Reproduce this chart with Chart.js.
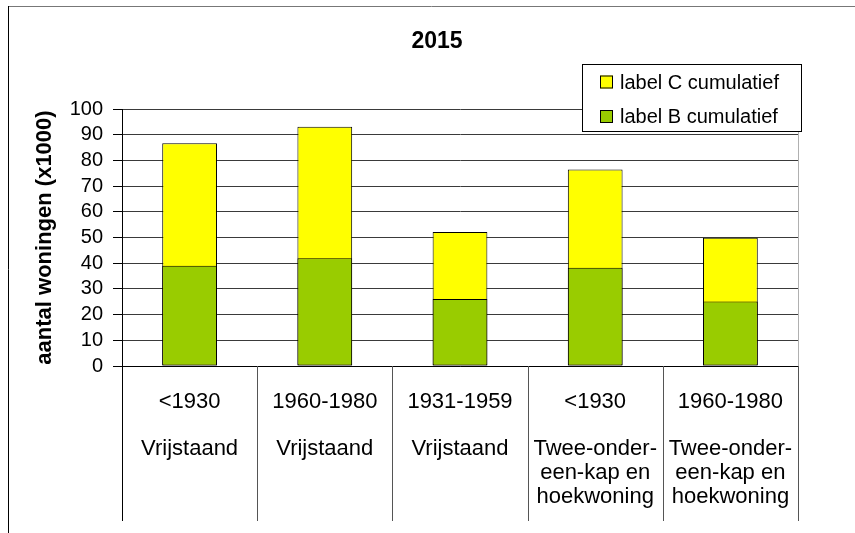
<!DOCTYPE html>
<html>
<head>
<meta charset="utf-8">
<script src="https://cdn.jsdelivr.net/npm/chart.js@4"></script>
<style>
  html, body { margin: 0; padding: 0; background: #fff; }
</style>
</head>
<body>
<canvas id="chart" width="855" height="533"></canvas>
<script>
// Gegevens
const titel = "2015";
const categorieen = [
  ["<1930", "", "Vrijstaand"],
  ["1960-1980", "", "Vrijstaand"],
  ["1931-1959", "", "Vrijstaand"],
  ["<1930", "", "Twee-onder-", "een-kap en", "hoekwoning"],
  ["1960-1980", "", "Twee-onder-", "een-kap en", "hoekwoning"]
];
const labelCCumulatief = [86.7, 93.1, 52.1, 76.5, 49.9];
const labelBCumulatief = [39.0, 41.9, 26.1, 38.2, 25.1];
const yTicks = [0, 10, 20, 30, 40, 50, 60, 70, 80, 90, 100];

const FONT = "'Liberation Sans', Arial, sans-serif";

// Titel, eigen legenda, kader en scheidingslijnen onder de as
const extraPlugin = {
  id: "extra",
  beforeDatasetsDraw(chart) {
    const ctx = chart.ctx, a = chart.chartArea;
    ctx.save();
    ctx.strokeStyle = "#b0b0b0";
    ctx.lineWidth = 1;
    ctx.beginPath();
    ctx.moveTo(Math.round(a.right) + 0.5, a.top);
    ctx.lineTo(Math.round(a.right) + 0.5, a.bottom);
    ctx.stroke();
    ctx.restore();
  },
  afterDraw(chart) {
    const ctx = chart.ctx, a = chart.chartArea;
    const n = categorieen.length;
    const step = (a.right - a.left) / n;
    ctx.save();

    // titel
    ctx.fillStyle = "#000";
    ctx.font = "bold 23px " + FONT;
    ctx.textAlign = "center";
    ctx.textBaseline = "middle";
    ctx.fillText(titel, 437, 42);

    // scheidingslijnen tussen categorieen
    ctx.lineWidth = 1;
    for (let i = 0; i <= n; i++) {
      const x = Math.round(a.left + i * step) + 0.5;
      ctx.strokeStyle = i === 0 ? "#000" : "#555";
      ctx.beginPath();
      ctx.moveTo(x, a.bottom);
      ctx.lineTo(x, 521);
      ctx.stroke();
    }

    // kader
    ctx.strokeStyle = "#777";
    ctx.beginPath();
    ctx.moveTo(8, 6.5);
    ctx.lineTo(855, 6.5);
    ctx.stroke();
    ctx.strokeStyle = "#000";
    ctx.beginPath();
    ctx.moveTo(8.5, 6);
    ctx.lineTo(8.5, 533);
    ctx.stroke();

    // legenda
    ctx.fillStyle = "#fff";
    ctx.fillRect(582, 64, 220, 68);
    ctx.strokeStyle = "#000";
    ctx.strokeRect(582.5, 64.5, 219, 67);
    const rows = [82, 116.5];
    chart.data.datasets.forEach((ds, i) => {
      const y = rows[i];
      ctx.fillStyle = ds.backgroundColor;
      ctx.fillRect(600, y - 6.5, 13, 13);
      ctx.strokeStyle = "#000";
      ctx.strokeRect(600.5, y - 6, 12, 12);
      ctx.fillStyle = "#000";
      ctx.font = "20px " + FONT;
      ctx.textBaseline = "middle";
      ctx.textAlign = "left";
      ctx.fillText(ds.label, 620, y + 1);
    });
    ctx.restore();
  }
};

const ctx = document.getElementById("chart").getContext("2d");
const myChart = new Chart(ctx, {
  type: "bar",
  data: {
    labels: categorieen,
    datasets: [
      {
        label: "label C cumulatief",
        data: labelCCumulatief,
        backgroundColor: "#ffff00",
        borderColor: "#000",
        borderWidth: 1,
        borderSkipped: false,
        grouped: false,
        order: 1,
        categoryPercentage: 1,
        barPercentage: 0.405
      },
      {
        label: "label B cumulatief",
        data: labelBCumulatief,
        backgroundColor: "#99cc00",
        borderColor: "#000",
        borderWidth: 1,
        borderSkipped: false,
        grouped: false,
        order: 0,
        categoryPercentage: 1,
        barPercentage: 0.405
      }
    ]
  },
  options: {
    responsive: false,
    animation: false,
    devicePixelRatio: 1,
    layout: { padding: { top: 109, right: 57, left: 0, bottom: 0 } },
    plugins: {
      legend: { display: false },
      tooltip: { enabled: false },
      title: { display: false }
    },
    scales: {
      x: {
        afterFit(scale) { scale.height = 167; },
        grid: { display: true, drawOnChartArea: false, drawTicks: false },
        border: { display: true, color: "#000", width: 1 },
        ticks: {
          color: "#000",
          font: { family: FONT, size: 22, lineHeight: 1.08 },
          padding: 24,
          maxRotation: 0,
          autoSkip: false
        }
      },
      y: {
        min: 0,
        max: 100,
        afterFit(scale) { scale.width = 122; },
        afterBuildTicks(scale) { scale.ticks = yTicks.map(v => ({ value: v })); },
        grid: { color: "#3a3a3a", lineWidth: 1, tickLength: 9, tickColor: "#000" },
        border: { display: true, color: "#000", width: 1 },
        ticks: {
          color: "#000",
          font: { family: FONT, size: 20, lineHeight: 1 },
          padding: 10,
          autoSkip: false,
          stepSize: 10
        },
        title: {
          display: true,
          text: "aantal woningen (x1000)",
          color: "#000",
          font: { family: FONT, size: 22, weight: "bold", lineHeight: 1.2 },
          padding: { top: 32, bottom: 0 }
        }
      }
    }
  },
  plugins: [extraPlugin]
});
</script>
</body>
</html>
